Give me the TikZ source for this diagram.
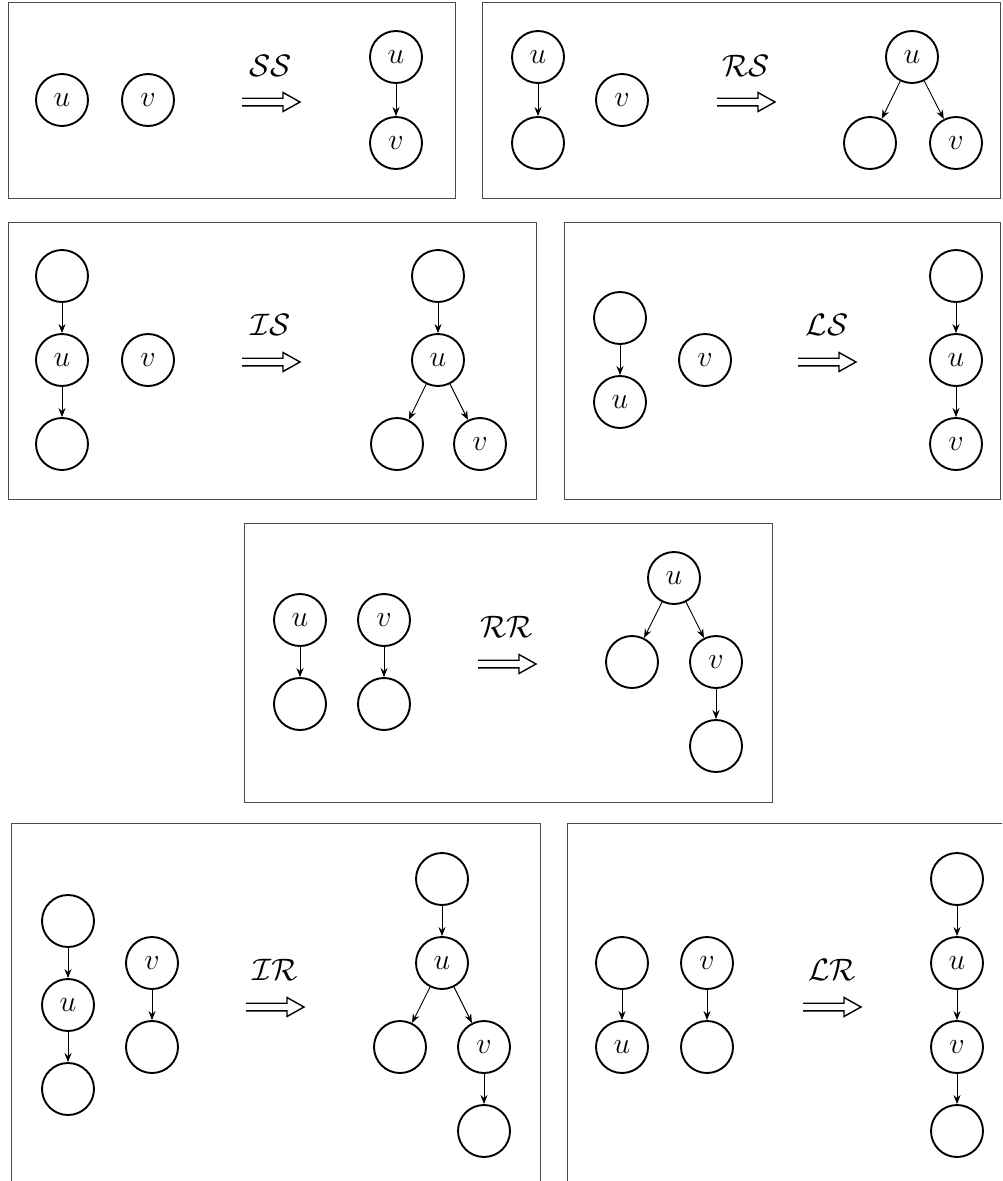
\RequirePackage{fix-cm}
\documentclass[tikz,border=0pt]{standalone}
\usetikzlibrary{arrows.meta}
\tikzset{
  vtx/.style={circle, draw, line width=1.9pt, minimum size=52pt, inner sep=0pt, font=\fontsize{30}{34}\selectfont},
  edge/.style={-{Stealth[length=9pt,width=7pt]}, line width=0.9pt},
  frame/.style={draw=black!70, line width=1pt},
  lbl/.style={font=\fontsize{31}{36}\selectfont, inner sep=0pt},
  dbl/.pic={\draw[line width=1.4pt, line join=miter] (-29,-3.8) -- (12,-3.8) -- (12,-9.5) -- (29,0) -- (12,9.5) -- (12,3.8) -- (-29,3.8);}
}
\begin{document}
\begin{tikzpicture}[x=1pt,y=-1pt]
\useasboundingbox (0,0) rectangle (1002,1181);
\clip (0,0) rectangle (1002,1181);
% ---------- Box 1: SS ----------
\draw[frame] (8,2) rectangle (455,198);
\node[vtx] (a1u) at (62,100) {$u$};
\node[vtx] (a1v) at (148,100) {$v$};
\pic at (271,102) {dbl};
\node[lbl] (l1) at (271,66) {$\mathcal{SS}$};
\node[vtx] (b1u) at (396,57) {$u$};
\node[vtx] (b1v) at (396,143) {$v$};
\draw[edge] (b1u) -- (b1v);
% ---------- Box 2: RS ----------
\draw[frame] (482,2) rectangle (1000,198);
\node[vtx] (a2u) at (538,57) {$u$};
\node[vtx] (a2c) at (538,143) {};
\draw[edge] (a2u) -- (a2c);
\node[vtx] (a2v) at (622,100) {$v$};
\pic at (746,102) {dbl};
\node[lbl] (l2) at (746,66) {$\mathcal{RS}$};
\node[vtx] (b2u) at (912,57) {$u$};
\node[vtx] (b2l) at (870,143) {};
\node[vtx] (b2v) at (956,143) {$v$};
\draw[edge] (b2u) -- (b2l);
\draw[edge] (b2u) -- (b2v);
% ---------- Box 3: IS ----------
\draw[frame] (8,222) rectangle (536,499);
\node[vtx] (a3t) at (62,276) {};
\node[vtx] (a3u) at (62,360) {$u$};
\node[vtx] (a3b) at (62,444) {};
\draw[edge] (a3t) -- (a3u);
\draw[edge] (a3u) -- (a3b);
\node[vtx] (a3v) at (148,360) {$v$};
\pic at (271,362) {dbl};
\node[lbl] (l3) at (271,325) {$\mathcal{IS}$};
\node[vtx] (b3t) at (438,276) {};
\node[vtx] (b3u) at (438,360) {$u$};
\node[vtx] (b3l) at (397,444) {};
\node[vtx] (b3v) at (480,444) {$v$};
\draw[edge] (b3t) -- (b3u);
\draw[edge] (b3u) -- (b3l);
\draw[edge] (b3u) -- (b3v);
% ---------- Box 4: LS ----------
\draw[frame] (564,222) rectangle (1000,499);
\node[vtx] (a4t) at (620,318) {};
\node[vtx] (a4u) at (620,402) {$u$};
\draw[edge] (a4t) -- (a4u);
\node[vtx] (a4v) at (705,360) {$v$};
\pic at (827,362) {dbl};
\node[lbl] (l4) at (827,325) {$\mathcal{LS}$};
\node[vtx] (b4t) at (956,276) {};
\node[vtx] (b4u) at (956,360) {$u$};
\node[vtx] (b4v) at (956,444) {$v$};
\draw[edge] (b4t) -- (b4u);
\draw[edge] (b4u) -- (b4v);
% ---------- Box 5: RR ----------
\draw[frame] (244,523) rectangle (772,802);
\node[vtx] (a5u) at (300,620) {$u$};
\node[vtx] (a5c) at (300,704) {};
\node[vtx] (a5v) at (384,620) {$v$};
\node[vtx] (a5d) at (384,704) {};
\draw[edge] (a5u) -- (a5c);
\draw[edge] (a5v) -- (a5d);
\pic at (507,664) {dbl};
\node[lbl] (l5) at (507,627) {$\mathcal{RR}$};
\node[vtx] (b5u) at (674,578) {$u$};
\node[vtx] (b5l) at (632,662) {};
\node[vtx] (b5v) at (716,662) {$v$};
\node[vtx] (b5b) at (716,746) {};
\draw[edge] (b5u) -- (b5l);
\draw[edge] (b5u) -- (b5v);
\draw[edge] (b5v) -- (b5b);
% ---------- Box 6: IR ----------
\draw[frame] (11,823) rectangle (540,1200);
\node[vtx] (a6t) at (68,921) {};
\node[vtx] (a6u) at (68,1005) {$u$};
\node[vtx] (a6b) at (68,1089) {};
\draw[edge] (a6t) -- (a6u);
\draw[edge] (a6u) -- (a6b);
\node[vtx] (a6v) at (152,963) {$v$};
\node[vtx] (a6c) at (152,1047) {};
\draw[edge] (a6v) -- (a6c);
\pic at (275,1007) {dbl};
\node[lbl] (l6) at (275,970) {$\mathcal{IR}$};
\node[vtx] (b6t) at (442,879) {};
\node[vtx] (b6u) at (442,963) {$u$};
\node[vtx] (b6l) at (400,1047) {};
\node[vtx] (b6v) at (484,1047) {$v$};
\node[vtx] (b6b) at (484,1131) {};
\draw[edge] (b6t) -- (b6u);
\draw[edge] (b6u) -- (b6l);
\draw[edge] (b6u) -- (b6v);
\draw[edge] (b6v) -- (b6b);
% ---------- Box 7: LR ----------
\draw[frame] (567,823) rectangle (1010,1200);
\node[vtx] (a7t) at (622,963) {};
\node[vtx] (a7u) at (622,1047) {$u$};
\draw[edge] (a7t) -- (a7u);
\node[vtx] (a7v) at (707,963) {$v$};
\node[vtx] (a7c) at (707,1047) {};
\draw[edge] (a7v) -- (a7c);
\pic at (832,1007) {dbl};
\node[lbl] (l7) at (832,970) {$\mathcal{LR}$};
\node[vtx] (b7t) at (957,879) {};
\node[vtx] (b7u) at (957,963) {$u$};
\node[vtx] (b7v) at (957,1047) {$v$};
\node[vtx] (b7b) at (957,1131) {};
\draw[edge] (b7t) -- (b7u);
\draw[edge] (b7u) -- (b7v);
\draw[edge] (b7v) -- (b7b);
\end{tikzpicture}
\end{document}
